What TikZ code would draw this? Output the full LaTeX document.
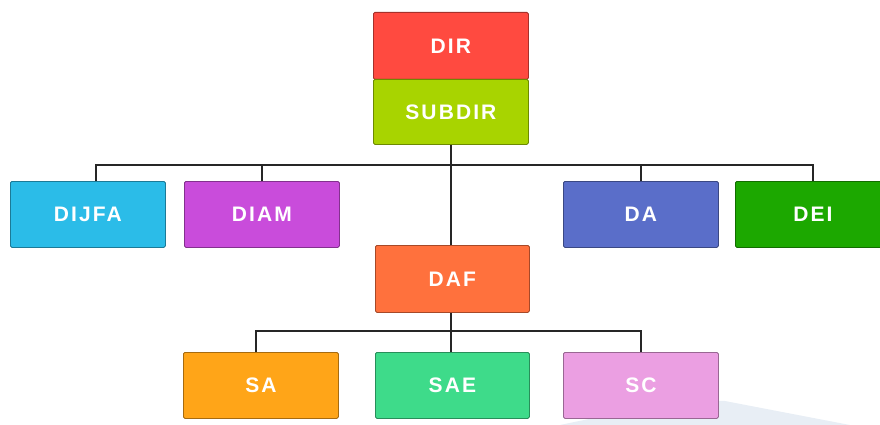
\documentclass[tikz,border=0pt]{standalone}
\usepackage{fontspec}
\usetikzlibrary{calc}
\setmainfont{Liberation Sans}
\definecolor{cdir}{HTML}{FF4A40}
\definecolor{csub}{HTML}{A8D400}
\definecolor{cdijfa}{HTML}{2BBCE8}
\definecolor{cdiam}{HTML}{C94CDB}
\definecolor{cda}{HTML}{5A6EC9}
\definecolor{cdei}{HTML}{1CA800}
\definecolor{cdaf}{HTML}{FF713D}
\definecolor{csa}{HTML}{FFA518}
\definecolor{csae}{HTML}{3EDB8A}
\definecolor{csc}{HTML}{EB9FE2}
\definecolor{swoosh}{HTML}{E8EEF5}
\begin{document}
\begin{tikzpicture}[x=1pt,y=-1pt,
  box/.style={fill=#1, draw=#1!65!black, rounded corners=1.5pt, line width=0.8pt,
    minimum width=155pt, minimum height=66pt, inner sep=0pt, anchor=north west,
    font=\fontsize{21}{21}\selectfont\bfseries\addfontfeature{LetterSpace=10}, text=white},
  conn/.style={draw=black!85, line width=1.4pt}]
\useasboundingbox (0,0) rectangle (880,425);
\clip (0,0) rectangle (880,425);
\fill[swoosh] (560,425) .. controls (640,408) and (690,400) .. (725,401) -- (850,425) -- cycle;
% top
\node[box=cdir, minimum height=67pt] (dir) at (373,12) {DIR};
\node[box=csub, minimum height=65pt] (subdir) at (373,79) {SUBDIR};
% second row
\node[box=cdijfa] (dijfa) at (10,181) {DIJFA};
\node[box=cdiam] (diam) at (184,181) {DIAM};
\node[box=cda] (da) at (563,181) {DA};
\node[box=cdei] (dei) at (735,181) {DEI};
% DAF
\node[box=cdaf, minimum width=154pt, minimum height=67pt] (daf) at (375,245) {DAF};
% bottom row
\node[box=csa] (sa) at (183,352) {SA};
\node[box=csae, minimum width=154pt] (sae) at (375,352) {SAE};
\node[box=csc] (sc) at (563,352) {SC};
% connectors
\coordinate (bus1) at (451,165);
\coordinate (bus2) at (451,331);
\coordinate (dijfatop) at ($(dijfa.north)+(8,0)$);
\coordinate (satop) at ($(sa.north)+(-5,0)$);
\draw[conn] (subdir.south -| bus1) -- (daf.north -| bus1);
\draw[conn] (dijfatop) |- (bus1) -| (dei.north);
\draw[conn] (diam.north) -- (diam.north |- bus1);
\draw[conn] (da.north) -- (da.north |- bus1);
\draw[conn] (daf.south -| bus2) -- (sae.north -| bus2);
\draw[conn] (satop) |- (bus2) -| (sc.north);
\end{tikzpicture}
\end{document}
